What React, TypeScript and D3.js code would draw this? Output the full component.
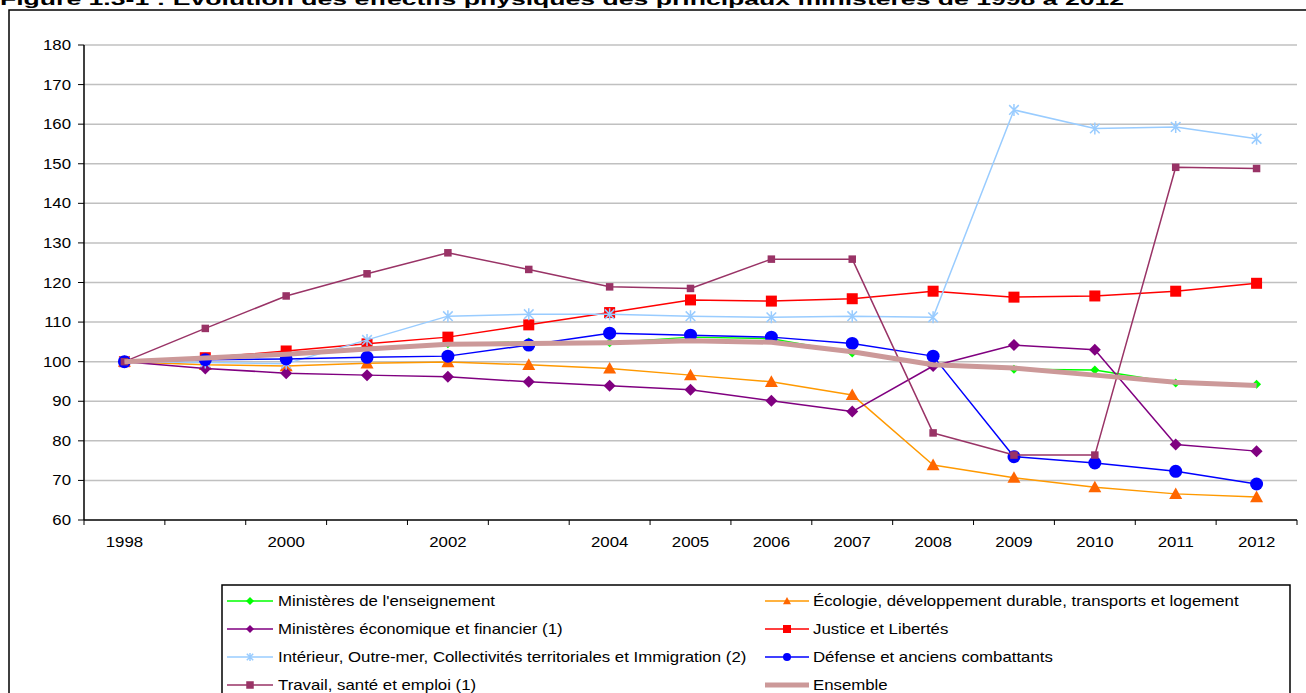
import React from "react";
import * as d3 from "d3";

const years = ["1998","1999","2000","2001","2002","2003","2004","2005","2006","2007","2008","2009","2010","2011","2012"];
const tickLabels = ["1998","","2000","","2002","","2004","2005","2006","2007","2008","2009","2010","2011","2012"];
const yTicks = [60,70,80,90,100,110,120,130,140,150,160,170,180];

const enseignement = [100, 101, 102, 103.5, 104.5, 105, 104.8, 106.2, 105.8, 102.2, 99.3, 98.1, 97.9, 94.6, 94.3];
const ecologie = [100, 99.2, 98.9, 99.6, 99.9, 99.2, 98.3, 96.6, 94.9, 91.6, 73.9, 70.7, 68.3, 66.6, 65.8];
const economique = [100, 98.3, 97.1, 96.6, 96.2, 94.9, 93.9, 92.9, 90.1, 87.4, 98.9, 104.2, 103.0, 79.1, 77.4];
const justice = [100, 101, 102.7, 104.5, 106.2, 109.3, 112.4, 115.6, 115.3, 115.9, 117.8, 116.3, 116.6, 117.8, 119.8];
const interieur = [100, 99.8, 99.5, 105.5, 111.5, 112.0, 112.0, 111.5, 111.2, 111.5, 111.2, 163.6, 158.9, 159.3, 156.3];
const defense = [100, 100.5, 100.7, 101.1, 101.4, 104.2, 107.2, 106.7, 106.2, 104.6, 101.4, 76.0, 74.4, 72.3, 69.1];
const travail = [100, 108.4, 116.6, 122.2, 127.5, 123.3, 118.9, 118.5, 125.9, 125.9, 82.0, 76.4, 76.4, 149.1, 148.8];
const ensemble = [100, 100.9, 101.9, 103.2, 104.4, 104.6, 104.8, 105.3, 104.9, 102.5, 99.2, 98.4, 96.6, 94.8, 94.0];

const seriesNames = [
  "Ministères de l'enseignement",
  "Écologie, développement durable, transports et logement",
  "Ministères économique et financier (1)",
  "Justice et Libertés",
  "Intérieur, Outre-mer, Collectivités territoriales et Immigration (2)",
  "Défense et anciens combattants",
  "Travail, santé et emploi (1)",
  "Ensemble",
];

type Style = { line: string; fill: string; marker: string; size: number; width: number };
const styles: Style[] = [
  { line: "#00FF00", fill: "#00FF00", marker: "diamond", size: 9, width: 1.5 },
  { line: "#FF9900", fill: "#FF6600", marker: "triangle", size: 13, width: 1.5 },
  { line: "#800080", fill: "#800080", marker: "diamond", size: 12, width: 1.5 },
  { line: "#FF0000", fill: "#FF0000", marker: "square", size: 11, width: 1.5 },
  { line: "#99CCFF", fill: "#99CCFF", marker: "star", size: 12, width: 1.5 },
  { line: "#0000FF", fill: "#0000FF", marker: "circle", size: 13, width: 1.5 },
  { line: "#993366", fill: "#993366", marker: "square", size: 7.5, width: 1.5 },
  { line: "#CC9999", fill: "#CC9999", marker: "none", size: 0, width: 5 },
];
const seriesData = [enseignement, ecologie, economique, justice, interieur, defense, travail, ensemble];

const FONT = "'Liberation Sans', Arial, sans-serif";
const SX = 1.2;

function Marker({ type, cx, cy, size, color }: { type: string; cx: number; cy: number; size: number; color: string }) {
  const h = size / 2;
  if (type === "diamond") {
    return <path d={`M${cx},${cy - h}L${cx + h},${cy}L${cx},${cy + h}L${cx - h},${cy}Z`} fill={color} />;
  }
  if (type === "triangle") {
    return <path d={`M${cx},${cy - h}L${cx + h},${cy + h * 0.8}L${cx - h},${cy + h * 0.8}Z`} fill={color} />;
  }
  if (type === "square") {
    return <rect x={cx - h} y={cy - h} width={size} height={size} fill={color} />;
  }
  if (type === "circle") {
    return <circle cx={cx} cy={cy} r={h} fill={color} />;
  }
  if (type === "star") {
    const d = h * 0.8;
    return (
      <path
        d={`M${cx},${cy - h}L${cx},${cy + h}M${cx - d},${cy - d}L${cx + d},${cy + d}M${cx - d},${cy + d}L${cx + d},${cy - d}`}
        stroke={color}
        strokeWidth={1.5}
        fill="none"
      />
    );
  }
  return null;
}

export default function App() {
  const W = 1306, H = 693;
  const left = 84, right = 1297, top = 45, bottom = 520;
  const x = d3.scaleBand<string>().domain(years).range([left, right]);
  const bw = x.bandwidth();
  const cx = (yr: string) => (x(yr) as number) + bw / 2;
  const y = d3.scaleLinear().domain([60, 180]).range([bottom, top]);
  const line = d3.line<number>().x((_, i) => cx(years[i])).y((v) => y(v));

  const legendRows = [601, 629, 657, 685];
  const legendCols = [{ s: 227, e: 273, t: 278 }, { s: 765, e: 809, t: 813 }];

  return (
    <svg width={W} height={H} style={{ position: "absolute", left: 0, top: 0, background: "#fff" }} fontFamily={FONT}>
      <rect x={0} y={0} width={W} height={H} fill="#fff" />
      <text x={0} y={5} fontSize={16} fontWeight="bold" textLength={1124} lengthAdjust="spacingAndGlyphs" fill="#000">
        Figure 1.3-1 : Évolution des effectifs physiques des principaux ministères de 1998 à 2012
      </text>
      <rect x={9} y={10} width={1320} height={720} fill="none" stroke="#000" strokeWidth={1.5} />

      {yTicks.map((t) => (
        <g key={t}>
          {t !== 60 && <line x1={left} x2={right} y1={y(t)} y2={y(t)} stroke="#C0C0C0" strokeWidth={1.5} />}
          <line x1={left - 6} x2={left} y1={y(t)} y2={y(t)} stroke="#000" strokeWidth={1} />
          <text transform={`translate(71,${y(t) + 5}) scale(${SX},1)`} textAnchor="end" fontSize={14} fill="#000">
            {t}
          </text>
        </g>
      ))}
      <line x1={left} x2={left} y1={top} y2={bottom} stroke="#000" strokeWidth={1.5} />
      <line x1={left} x2={right} y1={bottom} y2={bottom} stroke="#000" strokeWidth={1.5} />
      {years.map((yr) => (
        <line key={"t" + yr} x1={x(yr) as number} x2={x(yr) as number} y1={bottom} y2={bottom + 5} stroke="#000" strokeWidth={1} />
      ))}
      <line x1={right} x2={right} y1={bottom} y2={bottom + 5} stroke="#000" strokeWidth={1} />
      {years.map((yr, i) => (
        <text key={"l" + yr} transform={`translate(${cx(yr)},${bottom + 27}) scale(${SX},1)`} textAnchor="middle" fontSize={14} fill="#000">
          {tickLabels[i]}
        </text>
      ))}

      {seriesData.map((vals, si) => {
        const st = styles[si];
        return (
          <g key={"s" + si}>
            <path d={line(vals) || ""} fill="none" stroke={st.line} strokeWidth={st.width} strokeLinejoin="round" />
            {vals.map((v, i) => (
              <Marker key={i} type={st.marker} cx={cx(years[i])} cy={y(v)} size={st.size} color={st.fill} />
            ))}
          </g>
        );
      })}

      <rect x={222} y={585} width={1068} height={140} fill="#fff" stroke="#000" strokeWidth={1.5} />
      {seriesNames.map((name, i) => {
        const col = legendCols[i % 2];
        const ry = legendRows[Math.floor(i / 2)];
        const st = styles[i];
        const mid = (col.s + col.e) / 2;
        return (
          <g key={"lg" + i}>
            <line x1={col.s} x2={col.e} y1={ry} y2={ry} stroke={st.line} strokeWidth={st.width} />
            <Marker type={st.marker} cx={mid} cy={ry} size={Math.min(st.size, 8)} color={st.fill} />
            <text transform={`translate(${col.t},${ry + 5}) scale(${SX},1)`} fontSize={14} fill="#000">
              {name}
            </text>
          </g>
        );
      })}
    </svg>
  );
}
